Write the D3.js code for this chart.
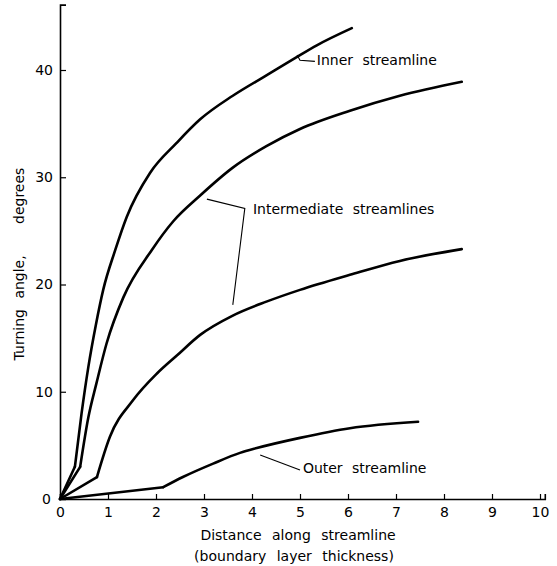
<!DOCTYPE html>
<html>
<head>
<meta charset="utf-8">
<script src="https://cdn.jsdelivr.net/npm/d3@7"></script>
<style>
  body { margin: 0; background: #fff; }
  text { font-family: "DejaVu Sans", sans-serif; fill: #000; }
  .curve { fill: none; stroke: #000; stroke-width: 2.6; stroke-linejoin: round; stroke-linecap: round; }
  .leader { fill: none; stroke: #000; stroke-width: 1.1; }
</style>
</head>
<body>
<div id="chart"></div>
<script>
var width = 557;
var height = 566;

// streamline data: [distance, turning angle]; 2nd point is the corner where the smooth part starts
var innerLine = [[0,0],[0.31,3],[0.45,8.0],[0.59,12.3],[0.75,16.3],[0.9,19.5],[1.15,23.2],
  [1.39,26.3],[1.875,30.4],[2.43,33.2],[2.92,35.4],[3.6,37.6],[4.3,39.5],[4.93,41.2],[5.35,42.3],[6.08,43.9]];
var midLine1 = [[0,0],[0.42,3],[0.59,7.6],[0.76,10.8],[0.97,14.5],[1.32,18.8],[1.91,23.2],[2.36,25.9],
  [2.92,28.3],[3.6,30.9],[4.3,32.9],[5.0,34.5],[6.04,36.2],[7.08,37.6],[8.37,38.9]];
var midLine2 = [[0,0],[0.77,2.05],[1.04,5.8],[1.52,9.2],[2.02,11.7],[2.44,13.4],[2.92,15.3],[3.6,17.1],
  [4.3,18.4],[5.0,19.5],[6.04,20.9],[7.08,22.2],[8.37,23.3]];
var outerLine = [[0,0],[2.15,1.1],[2.56,2.05],[3.19,3.3],[3.75,4.3],[4.1,4.75],[5.0,5.7],[6.04,6.6],[7.46,7.2]];

var xTicks = [0,1,2,3,4,5,6,7,8,9,10];
var yTicks = [0,10,20,30,40];

var labels = ["Inner streamline", "Intermediate streamlines", "Outer streamline"];

var svg = d3.select("#chart")
  .append("svg")
  .attr("width", width)
  .attr("height", height);

var x = d3.scaleLinear().domain([0, 10]).range([60, 540]);
var y = d3.scaleLinear().domain([0, 40]).range([499, 70]);

// axes (ticks point inward)
var xAxis = d3.axisBottom(x.copy().domain([0, 10.1]).range([x(0), x(10.1)]))
  .tickValues(xTicks)
  .tickFormat(d3.format("d"))
  .tickSize(-5)
  .tickPadding(8);

var yAxis = d3.axisLeft(y.copy().domain([0, 46.1]).range([y(0), y(46.1)]))
  .tickValues(yTicks.filter(function(d){ return d > 0; }))
  .tickSize(-6)
  .tickPadding(7);

var gx = svg.append("g")
  .attr("transform", "translate(0," + y(0) + ")")
  .call(xAxis);
var gy = svg.append("g")
  .attr("transform", "translate(" + x(0) + ",0)")
  .call(yAxis);

[gx, gy].forEach(function(g){
  g.select(".domain").attr("stroke-width", 1.6);
  g.selectAll(".tick line").attr("stroke-width", 1.2);
  g.selectAll("text").attr("font-size", 14).attr("font-family", "DejaVu Sans");
});

// y zero label sits beside the origin
svg.append("text")
  .attr("x", x(0) - 9)
  .attr("y", y(0))
  .attr("dy", "0.35em")
  .attr("text-anchor", "end")
  .attr("font-size", 14)
  .text("0");

// curves: straight run from the origin to the corner, smooth after it
var straight = d3.line()
  .x(function(d){ return x(d[0]); })
  .y(function(d){ return y(d[1]); });

var smooth = d3.line()
  .x(function(d){ return x(d[0]); })
  .y(function(d){ return y(d[1]); })
  .curve(d3.curveMonotoneX);

var series = [innerLine, midLine1, midLine2, outerLine];

svg.selectAll(".curve-a")
  .data(series)
  .enter()
  .append("path")
  .attr("class", "curve curve-a")
  .attr("d", function(d){ return straight(d.slice(0, 2)); });

svg.selectAll(".curve-b")
  .data(series)
  .enter()
  .append("path")
  .attr("class", "curve curve-b")
  .attr("d", function(d){ return smooth(d.slice(1)); });

// leaders and annotation text
var leaders = [
  [[4.94,41.4],[5.0,40.9],[5.31,40.8]],
  [[3.06,27.96],[3.85,27.1],[3.6,18.1]],
  [[4.17,4.1],[5.0,2.7]]
];
var labelPos = [[5.35,40.9],[4.02,27.0],[5.06,2.9]];

svg.selectAll(".leader")
  .data(leaders)
  .enter()
  .append("path")
  .attr("class", "leader")
  .attr("d", straight);

svg.selectAll(".note")
  .data(labels)
  .enter()
  .append("text")
  .attr("class", "note")
  .attr("x", function(d, i){ return x(labelPos[i][0]); })
  .attr("y", function(d, i){ return y(labelPos[i][1]); })
  .attr("dy", "0.35em")
  .attr("font-size", 14)
  .attr("word-spacing", 5)
  .text(function(d){ return d; });

// axis titles
svg.append("text")
  .attr("x", 298)
  .attr("y", 540)
  .attr("text-anchor", "middle")
  .attr("font-size", 14)
  .attr("word-spacing", 6)
  .text("Distance along streamline");

svg.append("text")
  .attr("x", 294)
  .attr("y", 561)
  .attr("text-anchor", "middle")
  .attr("font-size", 14)
  .attr("word-spacing", 6)
  .text("(boundary layer thickness)");

svg.append("text")
  .attr("transform", "translate(24,264) rotate(-90)")
  .attr("text-anchor", "middle")
  .attr("font-size", 14)
  .attr("word-spacing", 6)
  .text("Turning angle,\u00a0\u00a0 degrees");
</script>
</body>
</html>
